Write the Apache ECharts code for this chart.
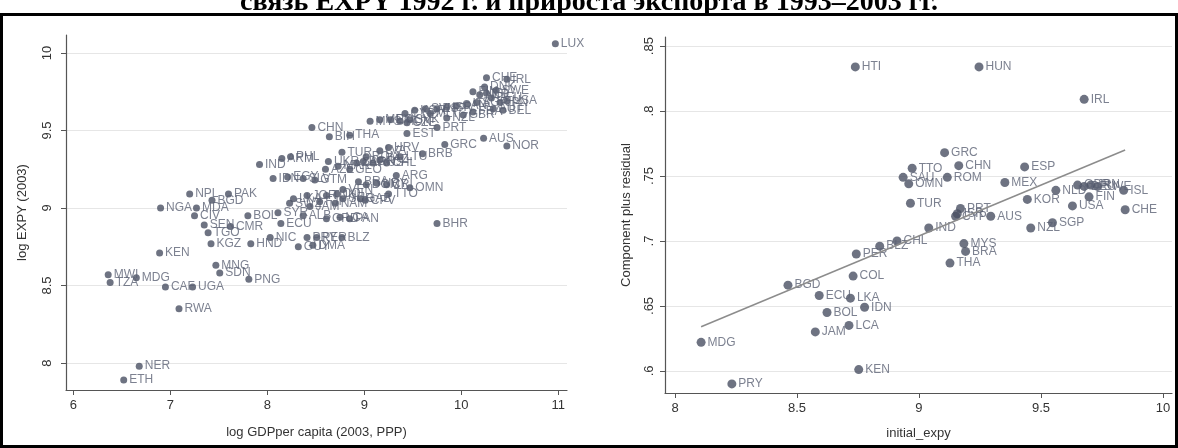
<!DOCTYPE html>
<html>
<head>
<meta charset="utf-8">
<script src="https://cdn.jsdelivr.net/npm/echarts@6/dist/echarts.min.js"></script>
<style>
  html, body { margin: 0; padding: 0; background: #fff; }
  #chart { width: 1178px; height: 448px; }
</style>
</head>
<body>
<div id="chart"></div>
<script>
// left panel: log GDP per capita vs log EXPY (2003)
const leftCodes = ["LUX","CHE","IRL","DNK","SWE","FIN","NLD","DEU","USA","JPN","AUT","BEL","FRA","GBR","ITA","CAN","ISR","ESP","SVN","KOR","NZL","SGP","ISL","CYP","MLT",
  "PRT","SVK","CZE","HUN","POL","MEX","MYS","EST","CHN","BIH","THA","GRC","AUS","NOR","TUR","HRV","LVA","LTU","BRB","ROM","BGR","RUS","CHL","KAZ","ZAF",
  "ARG","URY","CRI","DOM","OMN","TTO","BRA","VEN","COL","FJI","JAM","IND","ARM","PHL","IDN","EGY","SLV","GTM","UKR","MAR","GEO","AZE",
  "SWZ","LKA","JOR","TUN","SUR","GAB","NAM","CPV","NGA","MDA","CIV","SEN","CMR","TGO","KGZ","HND","BOL","SYR","ALB","ECU","NIC","PRY","PER","BLZ","GUY","DMA",
  "PAN","LCA","GRD","BHR","KEN","MNG","SDN","PNG","MWI","TZA","MDG","CAF","UGA","RWA","NER","ETH","NPL","PAK","BGD"];
const leftGdp = [10.97,10.26,10.47,10.24,10.36,10.12,10.19,10.31,10.47,10.40,10.33,10.43,10.12,10.02,10.06,9.95,9.85,9.75,9.63,9.52,9.85,10.16,10.26,9.42,9.68,
  9.75,9.47,9.44,9.37,9.27,9.16,9.06,9.44,8.46,8.64,8.85,9.83,10.23,10.47,8.77,9.25,9.16,9.37,9.60,9.02,8.99,9.09,9.23,9.16,8.92,
  9.33,9.13,9.23,9.02,9.47,9.25,8.94,8.78,8.72,8.54,8.44,7.92,8.15,8.24,8.06,8.21,8.37,8.49,8.63,8.73,8.85,8.60,
  8.23,8.27,8.41,8.61,8.78,8.96,8.70,9.01,6.90,7.27,7.25,7.35,7.62,7.39,7.42,7.83,7.80,8.11,8.37,8.14,8.03,8.41,8.51,8.77,8.32,8.47,
  8.85,8.75,8.61,9.75,6.89,7.47,7.51,7.81,6.36,6.38,6.65,6.95,7.23,7.09,6.68,6.52,7.20,7.60,7.43];
const leftExpy = [10.06,9.84,9.83,9.78,9.76,9.75,9.73,9.71,9.69,9.68,9.64,9.63,9.62,9.60,9.67,9.66,9.65,9.64,9.64,9.63,9.58,9.68,9.74,9.61,9.61,
  9.52,9.57,9.55,9.56,9.57,9.57,9.56,9.48,9.52,9.46,9.47,9.41,9.45,9.40,9.36,9.39,9.37,9.33,9.35,9.33,9.30,9.29,9.29,9.31,9.29,
  9.21,9.16,9.15,9.15,9.13,9.09,9.17,9.12,9.09,9.04,9.01,9.28,9.32,9.33,9.19,9.20,9.19,9.18,9.30,9.27,9.25,9.25,
  9.03,9.06,9.08,9.08,9.06,9.06,9.03,9.05,9.00,9.00,8.95,8.89,8.88,8.84,8.77,8.77,8.95,8.97,8.95,8.90,8.81,8.81,8.81,8.81,8.75,8.76,
  8.93,8.94,8.93,8.90,8.71,8.63,8.58,8.54,8.57,8.52,8.55,8.49,8.49,8.35,7.98,7.89,9.09,9.09,9.05];

// right panel: initial_expy vs component plus residual
const rightCodes = ["HTI","HUN","IRL","GRC","TTO","CHN","ESP","SAU","OMN","ROM","MEX","TUR","KOR","NLD","GBR","DEU","JPN","SWE","FIN","USA","ISL","CHE",
  "PRT","CYP","ISR","AUS","IND","NZL","SGP","CHL","BLZ","MYS","BRA","THA","PER","COL","BGD","ECU","LKA","IDN","BOL","LCA","JAM","MDG","KEN","PRY"];
const rightInit = [8.739,9.246,9.677,9.105,8.972,9.163,9.433,8.935,8.958,9.116,9.352,8.965,9.444,9.561,9.650,9.677,9.704,9.732,9.697,9.629,9.839,9.845,
  9.170,9.150,9.157,9.294,9.040,9.458,9.547,8.910,8.839,9.184,9.191,9.127,8.743,8.730,8.463,8.591,8.719,8.777,8.623,8.713,8.575,8.107,8.753,8.233];
const rightResid = [0.834,0.834,0.809,0.768,0.756,0.758,0.757,0.749,0.744,0.749,0.745,0.729,0.732,0.739,0.743,0.742,0.743,0.742,0.734,0.727,0.739,0.724,
  0.725,0.719,0.721,0.719,0.710,0.710,0.714,0.700,0.696,0.698,0.692,0.683,0.690,0.673,0.666,0.658,0.656,0.649,0.645,0.635,0.630,0.622,0.601,0.590];

// fitted line ends
const fitX = [8.107, 9.845];
const fitY = [0.634, 0.770];

const leftTicksX = [6, 7, 8, 9, 10, 11];
const leftTicksY = [8, 8.5, 9, 9.5, 10];
const rightTicksX = [8, 8.5, 9, 9.5, 10];
const rightTicksY = [0.6, 0.65, 0.7, 0.75, 0.8, 0.85];

const markColor = "#4a5063";
const labelColor = "#5b6274";
const font = "Liberation Sans";

function dropZero(v) {
  return String(+v.toFixed(2)).replace(/^0\./, ".");
}

function xAxisCfg(idx, min, max, ticks, name, gap) {
  return {
    gridIndex: idx, type: "value", min: min, max: max,
    name: name, nameLocation: "middle", nameGap: gap,
    nameTextStyle: { color: "#333", fontSize: 13, fontFamily: font },
    axisLine: { show: true, onZero: false, lineStyle: { color: "#555", width: 1.2 } },
    axisTick: { show: true, customValues: ticks, length: 5, lineStyle: { color: "#555" } },
    axisLabel: { customValues: ticks, color: "#333", fontSize: 13, fontFamily: font, margin: 9 },
    splitLine: { show: false }
  };
}

function yAxisCfg(idx, min, max, ticks, name, gap, fmt, margin) {
  return {
    gridIndex: idx, type: "value", min: min, max: max,
    name: name, nameLocation: "middle", nameGap: gap,
    nameTextStyle: { color: "#333", fontSize: 13, fontFamily: font },
    axisLine: { show: true, onZero: false, lineStyle: { color: "#555", width: 1.2 } },
    axisTick: { show: true, customValues: ticks, length: 5, lineStyle: { color: "#555" } },
    axisLabel: { customValues: ticks, rotate: 90, color: "#333", fontSize: 13, fontFamily: font, margin: margin, formatter: fmt },
    splitLine: { show: true, lineStyle: { color: "#e6e6e6", width: 1 } }
  };
}

const chart = echarts.init(document.getElementById("chart"));

const option = {
  backgroundColor: "#fff",
  animation: false,
  title: {
    text: "связь EXPY 1992 г. и прироста экспорта в 1993–2003 гг.",
    left: "center", top: -16,
    textStyle: { fontFamily: "Liberation Serif", fontWeight: "bold", fontSize: 28, color: "#000" }
  },
  graphic: [{
    type: "rect", shape: { x: 1.5, y: 14.5, width: 1175, height: 432 },
    style: { fill: "#fff", stroke: "#000", lineWidth: 3 }, silent: true, z: -1
  }],
  grid: [
    { left: 66, top: 35, width: 501, height: 355 },
    { left: 665, top: 37, width: 507, height: 356 }
  ],
  xAxis: [
    xAxisCfg(0, 5.925, 11.09, leftTicksX, "log GDPper capita (2003, PPP)", 36),
    xAxisCfg(1, 7.959, 10.037, rightTicksX, "initial_expy", 34)
  ],
  yAxis: [
    yAxisCfg(0, 7.826, 10.116, leftTicksY, "log EXPY (2003)", 37, v => String(+v.toFixed(2)), 12),
    yAxisCfg(1, 0.583, 0.857, rightTicksY, "Component plus residual", 32, dropZero, 9)
  ],
  series: [
    {
      type: "scatter", xAxisIndex: 0, yAxisIndex: 0, symbolSize: 7,
      itemStyle: { color: markColor },
      label: { show: true, position: "right", distance: 2, formatter: "{b}", color: labelColor, fontSize: 12, fontFamily: font },
      data: leftCodes.map((c, i) => ({ name: c, value: [leftGdp[i], leftExpy[i]] }))
    },
    {
      type: "line", xAxisIndex: 1, yAxisIndex: 1, showSymbol: false, silent: true,
      lineStyle: { color: "#8c8c8c", width: 1.5 },
      data: fitX.map((x, i) => [x, fitY[i]])
    },
    {
      type: "scatter", xAxisIndex: 1, yAxisIndex: 1, symbolSize: 9,
      itemStyle: { color: markColor },
      label: { show: true, position: "right", distance: 2, formatter: "{b}", color: labelColor, fontSize: 12, fontFamily: font },
      data: rightCodes.map((c, i) => ({ name: c, value: [rightInit[i], rightResid[i]] }))
    }
  ]
};

chart.setOption(option);

window.addEventListener("resize", () => {
  chart.resize();
});
</script>
</body>
</html>
